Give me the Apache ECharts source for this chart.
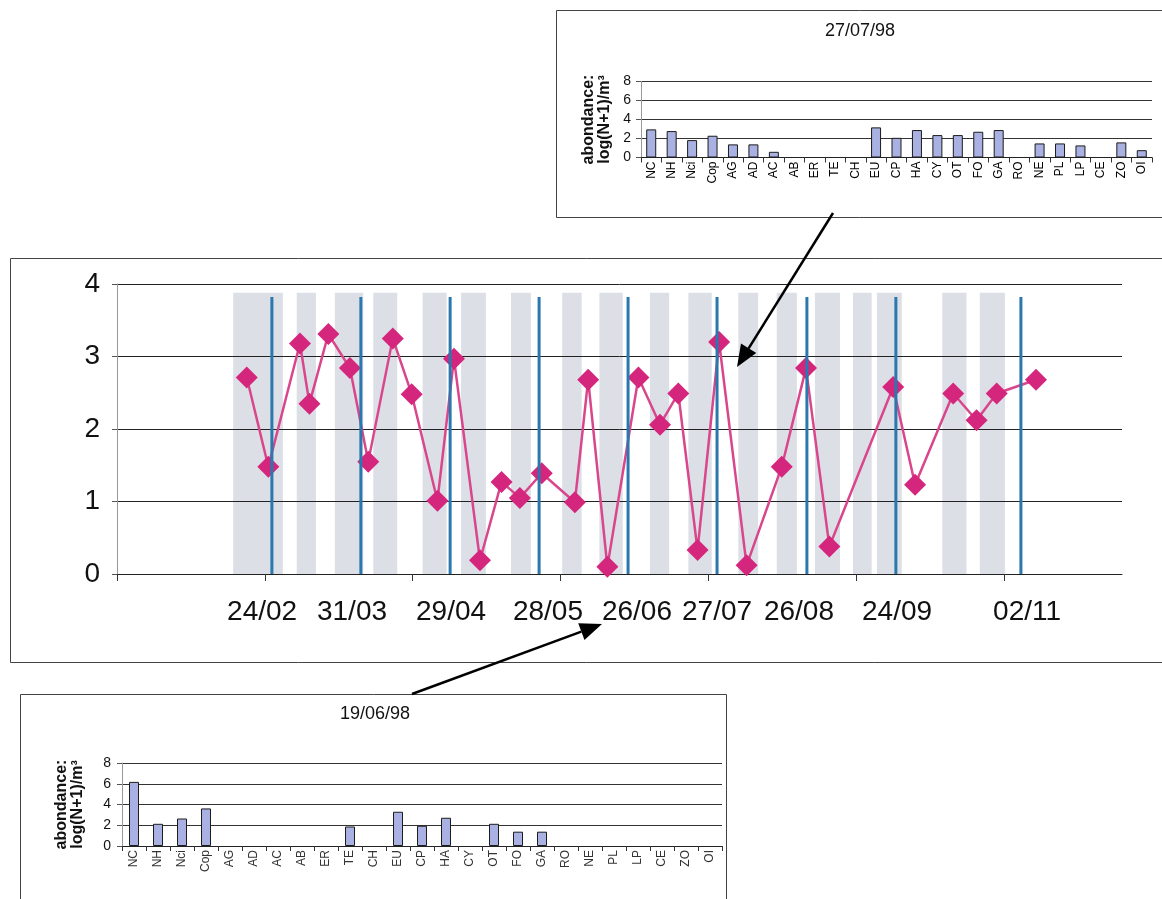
<!DOCTYPE html>
<html>
<head>
<meta charset="utf-8">
<script src="https://cdn.jsdelivr.net/npm/echarts@6/dist/echarts.min.js"></script>
<style>
  html, body { margin: 0; padding: 0; background: #fff; }
  #chart { width: 1162px; height: 899px; }
</style>
</head>
<body>
<div id="chart"></div>
<script>
// ---- Main series: total abundance, log(N+1)/m3, along the 1998 season ----
// x is expressed in days along the sampling axis
const sampleDays = [43.9, 51.2, 61.9, 65.1, 71.5, 78.8, 85.0, 93.3, 99.7, 108.4, 114.0,
  122.8, 130.1, 136.3, 143.7, 154.9, 159.4, 165.9, 176.4, 183.7, 189.9, 196.4, 203.7,
  213.0, 224.9, 233.1, 241.0, 262.6, 270.0, 282.9, 290.8, 297.6, 310.9];
const abundance = [2.71, 1.48, 3.18, 2.35, 3.31, 2.84, 1.55, 3.25, 2.48, 1.01, 2.97,
  0.19, 1.27, 1.05, 1.39, 0.99, 2.68, 0.10, 2.71, 2.06, 2.49, 0.33, 3.20,
  0.12, 1.48, 2.84, 0.38, 2.58, 1.23, 2.49, 2.12, 2.49, 2.68];

// shaded sampling periods [start, end]
const samplingPeriods = [[39.3, 56.1], [60.8, 67.3], [73.7, 83.3], [86.7, 94.8], [103.4, 111.5],
  [116.4, 124.8], [133.3, 140.0], [150.6, 157.2], [163.2, 171.1], [180.3, 186.8], [193.3, 201.2],
  [210.2, 216.9], [223.2, 230.0], [236.1, 244.6], [249.0, 255.3], [257.1, 265.5], [279.2, 287.4],
  [291.9, 300.4]];
const periodTop = 3.88;

// monthly reference dates (vertical markers)
const markerDays = [52.4, 82.5, 112.7, 142.8, 172.9, 203.0, 233.4, 263.5, 305.8];
const markerTop = 3.82;

// date tick labels and their positions
const dateLabels = ['24/02', '31/03', '29/04', '28/05', '26/06', '27/07', '26/08', '24/09', '02/11'];
const dateLabelDays = [49.1, 79.5, 113.0, 145.8, 175.9, 203.0, 230.7, 263.9, 307.9];
const dayTicks = [0, 50, 100, 150, 200, 250, 300];

// ---- Insets: abundance per taxon on two sampling dates ----
const taxa = ['NC', 'NH', 'Nci', 'Cop', 'AG', 'AD', 'AC', 'AB', 'ER', 'TE', 'CH', 'EU', 'CP',
  'HA', 'CY', 'OT', 'FO', 'GA', 'RO', 'NE', 'PL', 'LP', 'CE', 'ZO', 'OI'];
const taxa270798 = [2.96, 2.78, 1.83, 2.29, 1.38, 1.38, 0.6, 0, 0, 0, 0, 3.17, 2.07,
  2.89, 2.36, 2.36, 2.71, 2.89, 0, 1.48, 1.48, 1.27, 0, 1.59, 0.77];
const taxa190698 = [6.18, 2.14, 2.65, 3.62, 0, 0, 0, 0, 0, 1.88, 0, 3.30, 1.95,
  2.72, 0, 2.14, 1.38, 1.38, 0, 0, 0, 0, 0, 0, 0];

const FONT = '"Liberation Sans", Arial, sans-serif';
const INK = '#111';
const yName = 'abondance:\nlog(N+1)/m\u00B3';

function insetAxes(gridIndex, labelMargin, nameGap, labelColor) {
  return {
    x: {
      type: 'category', gridIndex, data: taxa,
      axisLine: { lineStyle: { color: '#222', width: 1 } },
      axisTick: { show: true, length: 5, lineStyle: { color: '#333' } },
      axisLabel: { rotate: 90, fontSize: 12, color: labelColor, margin: 4, interval: 0, fontFamily: FONT }
    },
    y: {
      type: 'value', gridIndex, min: 0, max: 8, interval: 2,
      axisLine: { show: true, lineStyle: { color: '#999' } },
      axisTick: { show: true, length: 5, lineStyle: { color: '#555' } },
      axisLabel: { fontSize: 14, color: INK, margin: labelMargin, fontFamily: FONT },
      splitLine: { lineStyle: { color: '#333', width: 1 } },
      name: yName, nameLocation: 'middle', nameRotate: 90, nameGap,
      nameTextStyle: { fontSize: 16, fontWeight: 'bold', lineHeight: 16, color: INK, fontFamily: FONT }
    }
  };
}
const topInset = insetAxes(1, 10, 28, '#000');
const bottomInset = insetAxes(2, 11, 36, '#333');

const barStyle = { color: '#a9b0e2', borderColor: '#1c1c1c', borderWidth: 1 };
// absent taxa get no bar at all
const barData = values => values.map(v => (v === 0 ? null : v));

// arrow helper: line plus filled head
function arrow(x1, y1, x2, y2) {
  const dx = x2 - x1, dy = y2 - y1, len = Math.hypot(dx, dy);
  const ux = dx / len, uy = dy / len, head = 22, half = 9;
  const bx = x2 - ux * head, by = y2 - uy * head;
  return [
    { type: 'line', shape: { x1, y1, x2: bx, y2: by }, style: { stroke: '#000', lineWidth: 2.5 }, z: 50 },
    { type: 'polygon', shape: { points: [[x2, y2], [bx - uy * half, by + ux * half], [bx + uy * half, by - ux * half]] },
      style: { fill: '#000' }, z: 50 }
  ];
}

const chart = echarts.init(document.getElementById('chart'), null, { renderer: 'canvas' });

chart.setOption({
  animation: false,
  backgroundColor: '#fff',
  textStyle: { fontFamily: FONT },
  grid: [
    { left: 117, top: 284, width: 1005, height: 290 },
    { left: 641, top: 81.5, width: 511, height: 76 },
    { left: 122, top: 763, width: 600, height: 83 }
  ],
  xAxis: [
    {
      type: 'value', gridIndex: 0, min: 0, max: 340, interval: 50,
      axisLine: { lineStyle: { color: '#222', width: 1 } },
      axisTick: { show: true, length: 7, customValues: dayTicks, lineStyle: { color: '#333' } },
      axisLabel: {
        customValues: dateLabelDays,
        formatter: v => dateLabels[dateLabelDays.indexOf(v)],
        fontSize: 28, color: INK, margin: 24, fontFamily: FONT
      },
      splitLine: { show: false }
    },
    topInset.x, bottomInset.x
  ],
  yAxis: [
    {
      type: 'value', gridIndex: 0, min: 0, max: 4, interval: 1,
      axisLine: { show: true, lineStyle: { color: '#999' } },
      axisTick: { show: true, length: 5, lineStyle: { color: '#555' } },
      axisLabel: { fontSize: 28, color: INK, margin: 17, fontFamily: FONT },
      splitLine: { lineStyle: { color: '#222', width: 1 } }
    },
    topInset.y, bottomInset.y
  ],
  series: [
    {
      type: 'custom', xAxisIndex: 0, yAxisIndex: 0, z: -1, silent: true,
      data: samplingPeriods,
      encode: { x: [0, 1] },
      renderItem: (params, api) => {
        const p0 = api.coord([api.value(0), periodTop]);
        const p1 = api.coord([api.value(1), 0]);
        return { type: 'rect', shape: { x: p0[0], y: p0[1], width: p1[0] - p0[0], height: p1[1] - p0[1] },
          style: { fill: '#dcdfe6' } };
      }
    },
    {
      type: 'line', xAxisIndex: 0, yAxisIndex: 0, z: 3,
      data: sampleDays.map((d, i) => [d, abundance[i]]),
      symbol: 'diamond', symbolSize: 22,
      itemStyle: { color: '#d5267d' },
      lineStyle: { color: '#d9468c', width: 2.5 }
    },
    {
      type: 'custom', xAxisIndex: 0, yAxisIndex: 0, z: 4, silent: true,
      data: markerDays.map(d => [d]),
      encode: { x: 0 },
      renderItem: (params, api) => {
        const a = api.coord([api.value(0), 0]);
        const b = api.coord([api.value(0), markerTop]);
        return { type: 'line', shape: { x1: a[0], y1: a[1], x2: b[0], y2: b[1] },
          style: { stroke: '#2a78ad', lineWidth: 3 } };
      }
    },
    {
      type: 'bar', xAxisIndex: 1, yAxisIndex: 1, data: barData(taxa270798),
      barWidth: 10, itemStyle: barStyle
    },
    {
      type: 'bar', xAxisIndex: 2, yAxisIndex: 2, data: barData(taxa190698),
      barWidth: 10, itemStyle: barStyle
    }
  ],
  graphic: [
    // frames
    { type: 'rect', shape: { x: 10.5, y: 258.5, width: 1160, height: 404 }, style: { fill: null, stroke: '#444', lineWidth: 1 }, z: -10 },
    { type: 'rect', shape: { x: 556.5, y: 10.5, width: 620, height: 207 }, style: { fill: null, stroke: '#444', lineWidth: 1 }, z: -10 },
    { type: 'rect', shape: { x: 20.5, y: 694.5, width: 706, height: 220 }, style: { fill: null, stroke: '#444', lineWidth: 1 }, z: -10 },
    // inset titles
    { type: 'text', x: 860, y: 31, style: { text: '27/07/98', font: '18px ' + FONT, fill: INK, textAlign: 'center', textVerticalAlign: 'middle' } },
    { type: 'text', x: 375, y: 714, style: { text: '19/06/98', font: '18px ' + FONT, fill: INK, textAlign: 'center', textVerticalAlign: 'middle' } },
    ...arrow(833, 213, 737, 367),
    ...arrow(412, 694, 602, 624)
  ]
});
</script>
</body>
</html>
